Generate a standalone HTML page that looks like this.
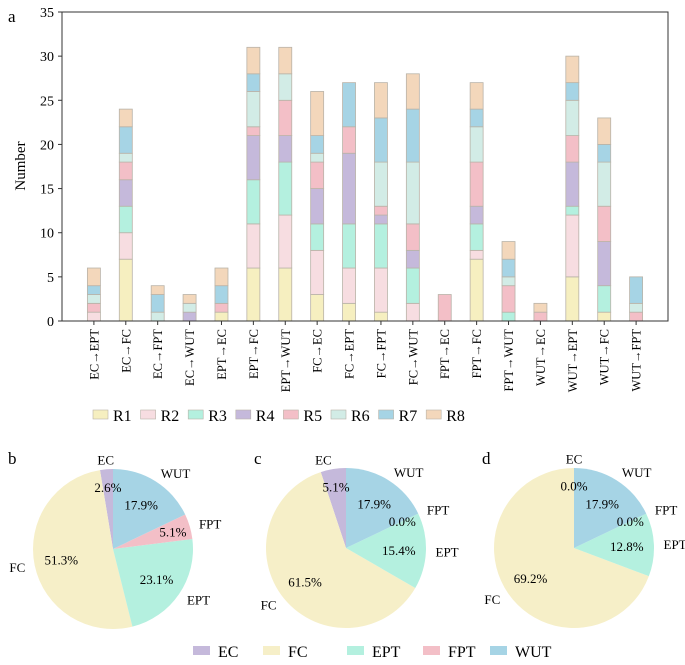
<!DOCTYPE html>
<html><head><meta charset="utf-8"><style>
body{margin:0;background:#fff;}
svg{display:block;font-family:"Liberation Serif",serif;}
</style></head><body>
<svg id="fig" width="685" height="665" viewBox="0 0 685 665">
<text x="8" y="22" font-size="17">a</text>
<text x="8" y="464" font-size="17">b</text>
<text x="254" y="464" font-size="17">c</text>
<text x="482" y="464" font-size="17">d</text>
<g id="bars"></g>
<g id="pies"></g>
</svg>
<script>
const categories=["EC→EPT","EC→FC","EC→FPT","EC→WUT","EPT→EC","EPT→FC","EPT→WUT","FC→EC","FC→EPT","FC→FPT","FC→WUT","FPT→EC","FPT→FC","FPT→WUT","WUT→EC","WUT→EPT","WUT→FC","WUT→FPT"];
const seriesNames=["R1","R2","R3","R4","R5","R6","R7","R8"];
const R1=[0,7,0,0,1,6,6,3,2,1,0,0,7,0,0,5,1,0];
const R2=[1,3,0,0,0,5,6,5,4,5,2,0,1,0,0,7,0,0];
const R3=[0,3,0,0,0,5,6,3,5,5,4,0,3,1,0,1,3,0];
const R4=[0,3,0,1,0,5,3,4,8,1,2,0,2,0,0,5,5,0];
const R5=[1,2,0,0,1,1,4,3,3,1,3,3,5,3,1,3,4,1];
const R6=[1,1,1,1,0,4,3,1,0,5,7,0,4,1,0,4,5,1];
const R7=[1,3,2,0,2,2,0,2,5,5,6,0,2,2,0,2,2,3];
const R8=[2,2,1,1,2,3,3,5,0,4,4,0,3,2,1,3,3,0];
const yTicks=[0,5,10,15,20,25,30,35];
const colors=["#f6efc0","#f7dde1","#b4f0df","#c5b9db","#f3bfc7","#d2ece6","#a6d4e5","#f3d7bb"];
const NS="http://www.w3.org/2000/svg";
function mk(tag,attrs,parent){const e=document.createElementNS(NS,tag);for(const k in attrs)e.setAttribute(k,attrs[k]);parent.appendChild(e);return e;}
const L=62,R=668,T=12,B=321;
const yMax=35;
const y=v=>B-(v/yMax)*(B-T);
const bw=(R-L)/(categories.length+1);
const x=i=>L+(i+1)*bw;
const bars=document.getElementById('bars');
const series=[R1,R2,R3,R4,R5,R6,R7,R8];
categories.forEach((c,i)=>{
  let cum=0;
  series.forEach((s,k)=>{
    const v=s[i];
    if(v>0){
      const r=mk('rect',{x:x(i)-6.5,y:y(cum+v),width:13,height:y(cum)-y(cum+v),fill:colors[k],stroke:"#b9b3a8","stroke-width":0.8},bars);
      
      
    }
    cum+=v;
  });
  const tk=mk('line',{x1:x(i),x2:x(i),y1:B,y2:B+4,stroke:"#333"},bars);
  
  
  const t=mk('text',{transform:`translate(${x(i)+4.5},${B+8}) rotate(-90)`,"text-anchor":"end","font-size":"12.5"},bars);
  t.textContent=c;
  
  
});
const frame=mk('rect',{x:L,y:T,width:R-L,height:B-T,fill:"none",stroke:"#333","stroke-width":1},bars);


yTicks.forEach(v=>{
  const l=mk('line',{x1:L-4,x2:L,y1:y(v),y2:y(v),stroke:"#333"},bars);
  
  
  const t=mk('text',{x:L-8,y:y(v)+5,"text-anchor":"end","font-size":"14"},bars);
  t.textContent=v;
  
  
});
const yl=mk('text',{transform:"translate(25,166) rotate(-90)","text-anchor":"middle","font-size":"15"},bars);
yl.textContent="Number";


seriesNames.forEach((n,k)=>{
  const lx=93+k*47.6;
  const r=mk('rect',{x:lx,y:410,width:15,height:9,fill:colors[k],stroke:"#b9b3a8","stroke-width":0.6},bars);
  
  
  const t=mk('text',{x:lx+20,y:421,"font-size":"16"},bars);
  t.textContent=n;
  
  
});

// Pies
const pieLabels=["EC","FC","EPT","FPT","WUT"];
const pieColors=["#c5b9db","#f6efc8","#b4f0df","#f3bfc7","#a6d4e5"];
const pieB=[2.6,51.3,23.1,5.1,17.9];
const pieC=[5.1,61.5,15.4,0.0,17.9];
const pieD=[0.0,69.2,12.8,0.0,17.9];
const pies=document.getElementById('pies');
function drawPie(vals,cx,cy,r,name){
  const total=vals.reduce((a,b)=>a+b,0);
  const g=mk('g',{},pies);
  
  
  const rad=d=>d*Math.PI/180;
  let a0=90;
  const mids=[];
  vals.forEach((v,k)=>{
    const a1=a0+v/total*360;
    if(v>0){
      const x0=cx+r*Math.cos(rad(a0)),y0=cy-r*Math.sin(rad(a0));
      const x1=cx+r*Math.cos(rad(a1)),y1=cy-r*Math.sin(rad(a1));
      const large=(a1-a0)>180?1:0;
      const p=mk('path',{d:`M${cx},${cy} L${x0},${y0} A${r},${r} 0 ${large} 0 ${x1},${y1} Z`,fill:pieColors[k]},g);
      
      
    }
    mids.push(rad((a0+a1)/2));
    a0=a1;
  });
  vals.forEach((v,k)=>{
    const am=mids[k];
    const lt=mk('text',{x:cx+1.12*r*Math.cos(am),y:cy-1.12*r*Math.sin(am)+5,"text-anchor":Math.cos(am)>0.1?"start":(Math.cos(am)<-0.1?"end":"middle"),"font-size":"13"},g);
    lt.textContent=pieLabels[k];
    
    
    const pd=v<8?0.78:0.66;
    const pt=mk('text',{x:cx+pd*r*Math.cos(am),y:cy-pd*r*Math.sin(am)+5,"text-anchor":"middle","font-size":"13"},g);
    pt.textContent=v.toFixed(1)+"%";
    
    
  });
}
drawPie(pieB,113,549,80,'pie-b');
drawPie(pieC,346,548,80,'pie-c');
drawPie(pieD,574,548,80,'pie-d');
const legX=[193,263,347,423,490];
pieLabels.forEach((n,k)=>{
  const r=mk('rect',{x:legX[k],y:646,width:17,height:9,fill:pieColors[k]},pies);
  
  
  const t=mk('text',{x:legX[k]+25,y:657,"font-size":"16"},pies);
  t.textContent=n;
  
  
});
</script>
</body></html>
